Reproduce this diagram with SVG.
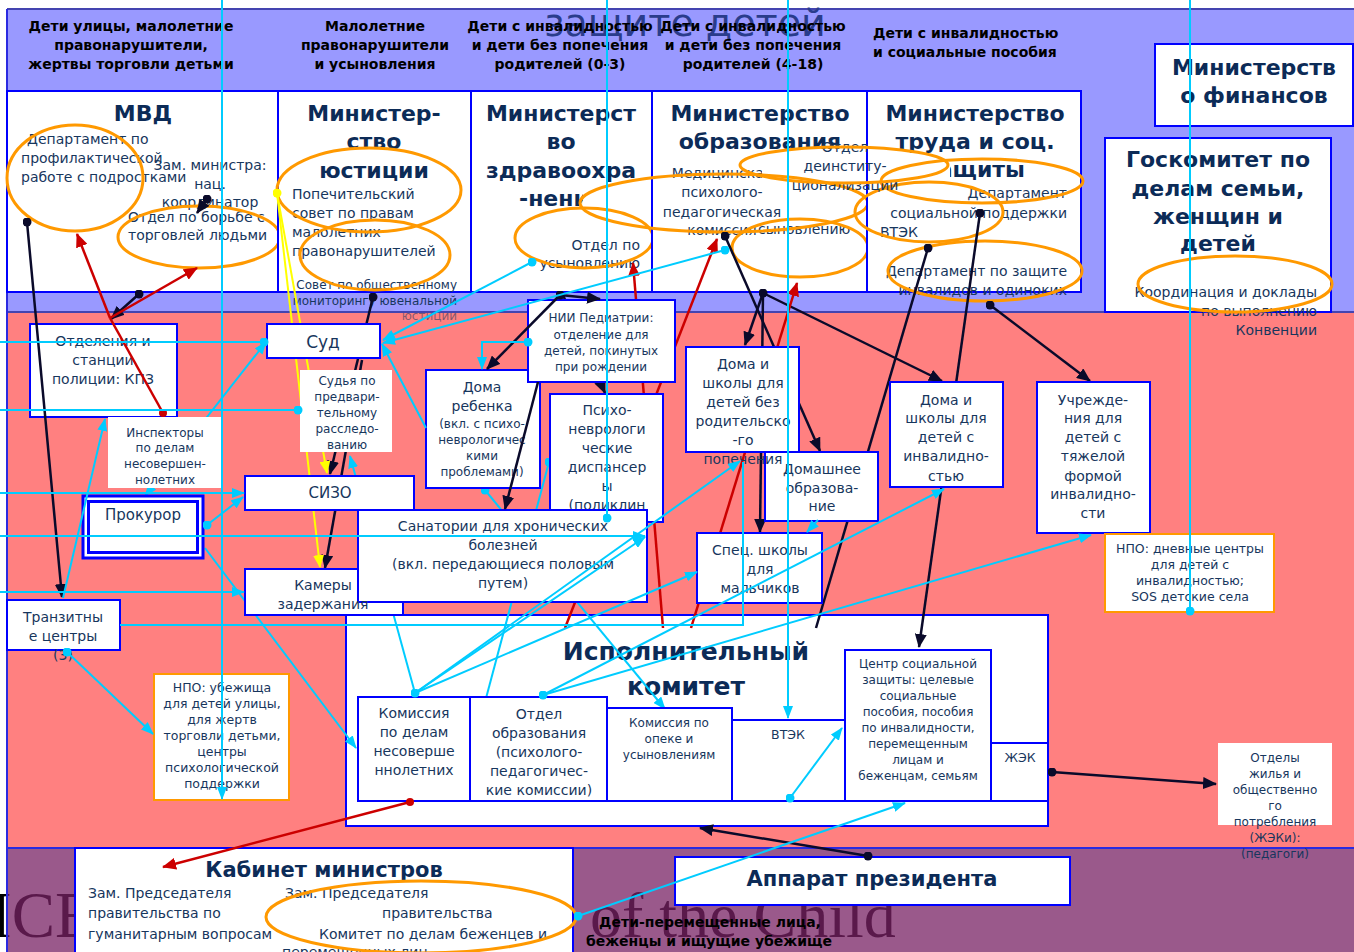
<svg xmlns="http://www.w3.org/2000/svg" width="1354" height="952" viewBox="0 0 1354 952">
<defs>
<style>
.t{font-family:"DejaVu Sans",Verdana,sans-serif;font-size:14px;fill:#17365d}
.c{text-anchor:middle}
.e{text-anchor:end}
.s12{font-size:12px}
.s13{font-size:12.5px}
.h{font-family:"DejaVu Sans",Verdana,sans-serif;font-size:14px;font-weight:bold;fill:#000;text-anchor:middle}
.ti{font-family:"DejaVu Sans",Verdana,sans-serif;font-size:22px;font-weight:bold;fill:#0c2b57;text-anchor:middle}
.bx{fill:#fff;stroke:#0000ff;stroke-width:2}
.nb{fill:#fff}
.ob{fill:#fff;stroke:#ff9900;stroke-width:2}
.el{fill:none;stroke:#ff9900;stroke-width:3}
.k{fill:none;stroke:#0a0a2a;stroke-width:2.5}
.cy{fill:none;stroke:#00ccff;stroke-width:2}
.r{fill:none;stroke:#cc0000;stroke-width:2.5}
.y{fill:none;stroke:#ffff00;stroke-width:2}
.bg{font-family:"Liberation Serif","Times New Roman",serif;font-size:65px;fill:#000}
</style>
<marker id="ak" viewBox="0 0 14 12" refX="13" refY="6" markerWidth="14" markerHeight="12" markerUnits="userSpaceOnUse" orient="auto"><path d="M0,0L14,6L0,12z" fill="#0a0a2a"/></marker>
<marker id="ar" viewBox="0 0 14 12" refX="13" refY="6" markerWidth="14" markerHeight="12" markerUnits="userSpaceOnUse" orient="auto"><path d="M0,0L14,6L0,12z" fill="#cc0000"/></marker>
<marker id="ac" viewBox="0 0 13 10" refX="12" refY="5" markerWidth="13" markerHeight="10" markerUnits="userSpaceOnUse" orient="auto"><path d="M0,0L13,5L0,10z" fill="#00ccff"/></marker>
<marker id="acs" viewBox="0 0 13 10" refX="12" refY="5" markerWidth="13" markerHeight="10" markerUnits="userSpaceOnUse" orient="auto-start-reverse"><path d="M0,0L13,5L0,10z" fill="#00ccff"/></marker>
<marker id="ay" viewBox="0 0 13 11" refX="12" refY="5.5" markerWidth="13" markerHeight="11" markerUnits="userSpaceOnUse" orient="auto"><path d="M0,0L13,5.5L0,11z" fill="#ffff00"/></marker>
<marker id="dk" viewBox="0 0 10 10" refX="5" refY="5" markerWidth="9" markerHeight="9" markerUnits="userSpaceOnUse"><circle cx="5" cy="5" r="5" fill="#0a0a2a"/></marker>
<marker id="dc" viewBox="0 0 10 10" refX="5" refY="5" markerWidth="9" markerHeight="9" markerUnits="userSpaceOnUse"><circle cx="5" cy="5" r="5" fill="#00ccff"/></marker>
<marker id="dr" viewBox="0 0 10 10" refX="5" refY="5" markerWidth="8" markerHeight="8" markerUnits="userSpaceOnUse"><circle cx="5" cy="5" r="5" fill="#cc0000"/></marker>
<marker id="dy" viewBox="0 0 10 10" refX="5" refY="5" markerWidth="9" markerHeight="9" markerUnits="userSpaceOnUse"><circle cx="5" cy="5" r="5" fill="#ffff00"/></marker>
<clipPath id="cpA"><rect x="0" y="0" width="583" height="952"/></clipPath>
<clipPath id="cpB"><rect x="0" y="0" width="762" height="952"/></clipPath>
<clipPath id="cpC"><rect x="950" y="0" width="404" height="952"/></clipPath>
</defs>

<g id="background">
<rect width="1354" height="952" fill="#fff"/>
<text class="bg" x="-10" y="937">ICE</text>
<text class="bg" x="590" y="937" style="font-size:64px">of the Child</text>
<rect x="7" y="9" width="1347" height="303" fill="#9999ff"/>
<rect x="7" y="312" width="1347" height="536" fill="#ff8080"/>
<rect x="7" y="848" width="1347" height="104" fill="#782164" fill-opacity="0.75"/>
<path d="M7,9H1354M7,312H1354" stroke="#4444b0" stroke-width="2"/>
<path d="M7,848H1354M7,9V952" stroke="#2a2ae0" stroke-width="2"/>
<text x="685" y="36" style="font-family:'DejaVu Sans',Verdana,sans-serif;font-size:38px;fill:#2a3c8c;text-anchor:middle">защите детей</text>
</g>

<g id="headers">
<text class="h" x="131" y="31">Дети улицы, малолетние</text>
<text class="h" x="131" y="50">правонарушители,</text>
<text class="h" x="131" y="69">жертвы торговли детьми</text>
<text class="h" x="375" y="31">Малолетние</text>
<text class="h" x="375" y="50">правонарушители</text>
<text class="h" x="375" y="69">и усыновления</text>
<text class="h" x="560" y="31">Дети с инвалидностью</text>
<text class="h" x="560" y="50">и дети без попечения</text>
<text class="h" x="560" y="69">родителей (0-3)</text>
<text class="h" x="753" y="31">Дети с инвалидностью</text>
<text class="h" x="753" y="50">и дети без попечения</text>
<text class="h" x="753" y="69">родителей (4-18)</text>
<text class="h" x="873" y="38" style="text-anchor:start">Дети с инвалидностью</text>
<text class="h" x="873" y="57" style="text-anchor:start">и социальные пособия</text>
</g>

<g id="mvd">
<rect class="bx" x="7" y="91" width="271" height="201"/>
<text class="ti" x="143" y="121">МВД</text>
<text class="t" x="27" y="144">Департамент по</text>
<text class="t" x="21" y="163">профилактической</text>
<text class="t" x="21" y="182">работе с подростками</text>
<text class="t c" x="210" y="170">Зам. министра:</text>
<text class="t c" x="210" y="189">нац.</text>
<text class="t c" x="210" y="207">координатор</text>
<text class="t" x="128" y="222">Отдел по борьбе с</text>
<text class="t" x="128" y="240">торговлей людьми</text>
<ellipse class="el" cx="75" cy="178" rx="68" ry="53"/>
<ellipse class="el" cx="199" cy="237" rx="81" ry="31"/>
</g>

<g id="min-justice">
<rect class="bx" x="278" y="91" width="193" height="201"/>
<text class="ti" x="374" y="121">Министер-</text>
<text class="ti" x="374" y="149">ство</text>
<text class="ti" x="374" y="178">юстиции</text>
<text class="t" x="292" y="199">Попечительский</text>
<text class="t" x="292" y="218">совет по правам</text>
<text class="t" x="292" y="237">малолетних</text>
<text class="t" x="292" y="256">правонарушителей</text>
<text class="t e s12" x="457" y="289">Совет по общественному</text>
<text class="t e s12" x="457" y="305">мониторингу ювенальной</text>
<text class="t e s12" x="457" y="320" fill-opacity="0.55">юстиции</text>
<ellipse class="el" cx="369" cy="190" rx="92" ry="42"/>
<ellipse class="el" cx="375" cy="255" rx="75" ry="35"/>
</g>

<g id="min-health">
<rect class="bx" x="471" y="91" width="181" height="201"/>
<text class="ti" x="561" y="121">Министерст</text>
<text class="ti" x="561" y="149">во</text>
<text class="ti" x="561" y="178">здравоохра</text>
<text class="ti" x="561" y="206" clip-path="url(#cpA)">-нения</text>
<text class="t e" x="640" y="250">Отдел по</text>
<text class="t e" x="640" y="268">усыновлению</text>
<ellipse class="el" cx="584" cy="238" rx="69" ry="30"/>
</g>

<g id="min-education">
<rect class="bx" x="652" y="91" width="215" height="201"/>
<text class="ti" x="760" y="121">Министерство</text>
<text class="ti" x="760" y="149">образования</text>
<text class="t c" x="722" y="178" clip-path="url(#cpB)">Медицинская</text>
<text class="t c" x="722" y="197">психолого-</text>
<text class="t c" x="722" y="217">педагогическая</text>
<text class="t c" x="722" y="235">комиссия</text>
<text class="t" x="758" y="234">сыновлению</text>
<ellipse class="el" cx="724" cy="203" rx="144" ry="29"/>
<ellipse class="el" cx="800" cy="248" rx="68" ry="29"/>
</g>

<g id="min-labour">
<rect class="bx" x="867" y="91" width="214" height="201"/>
<text class="ti" x="975" y="121">Министерство</text>
<text class="ti" x="975" y="149">труда и соц.</text>
<text class="ti" x="975" y="177" clip-path="url(#cpC)">защиты</text>
<text class="t e" x="1067" y="198">Департамент</text>
<text class="t e" x="1067" y="218">социальной поддержки</text>
<text class="t" x="880" y="237">ВТЭК</text>
<text class="t e" x="1067" y="276">Департамент по защите</text>
<text class="t e" x="1067" y="295">инвалидов и одиноких</text>
<ellipse class="el" cx="982" cy="181" rx="101" ry="22"/>
<ellipse class="el" cx="929" cy="212" rx="74" ry="30"/>
<ellipse class="el" cx="985" cy="271" rx="97" ry="30"/>
</g>

<g id="deinstitutionalization-dept">
<text class="t c" x="845" y="152">Отдел</text>
<text class="t c" x="845" y="171">деинститу-</text>
<text class="t c" x="845" y="190">ционализации</text>
<ellipse class="el" cx="844" cy="165" rx="104" ry="18"/>
</g>

<g id="min-finance">
<rect class="bx" x="1155" y="44" width="198" height="82"/>
<text class="ti" x="1254" y="75">Министерств</text>
<text class="ti" x="1254" y="103">о финансов</text>
</g>

<g id="goskomitet">
<rect class="bx" x="1105" y="138" width="226" height="174"/>
<text class="ti" x="1218" y="167">Госкомитет по</text>
<text class="ti" x="1218" y="196">делам семьи,</text>
<text class="ti" x="1218" y="224">женщин и</text>
<text class="ti" x="1218" y="251">детей</text>
<text class="t e" x="1317" y="297">Координация и доклады</text>
<text class="t e" x="1317" y="316">по выполнению</text>
<text class="t e" x="1317" y="335">Конвенции</text>
<ellipse class="el" cx="1235" cy="284" rx="97" ry="28"/>
</g>

<g id="ispolkom">
<rect class="bx" x="346" y="615" width="702" height="211"/>
<text class="ti" x="686" y="660" style="font-size:25px">Исполнительный</text>
<text class="ti" x="686" y="695" style="font-size:25px">комитет</text>
</g>

<g id="connectors-mid">
<path class="k" d="M563,295L605,393" marker-end="url(#ak)"/>
<path class="k" d="M725,236L820,451" marker-start="url(#dk)" marker-end="url(#ak)"/>
<path class="k" d="M763,293L745,345" marker-start="url(#dk)" marker-end="url(#ak)"/>
<path class="k" d="M763,293L760,532" marker-end="url(#ak)"/>
<path class="k" d="M763,293L942,381" marker-end="url(#ak)"/>
<path class="k" d="M928,248L816,628" marker-start="url(#dk)"/>
<path class="k" d="M980,213L919,647" marker-start="url(#dk)" marker-end="url(#ak)"/>
<path class="k" d="M990,305L1090,381" marker-start="url(#dk)" marker-end="url(#ak)"/>
<path class="k" d="M373,297L330,474" marker-start="url(#dk)" marker-end="url(#ak)"/>
<path class="k" d="M362,360L325,568" marker-end="url(#ak)"/>
<path class="r" d="M565,628L717,239" marker-end="url(#ar)"/>
<path class="r" d="M663,628L633,263" marker-end="url(#ar)"/>
<path class="r" d="M691,628L797,283" marker-end="url(#ar)"/>
<path class="y" d="M277,193L327,473" marker-start="url(#dy)" marker-end="url(#ay)"/>
<path class="y" d="M277,193L320,567" marker-end="url(#ay)"/>
<path class="cy" d="M145,496L266,342" marker-start="url(#acs)" marker-end="url(#ac)"/>
<path class="cy" d="M205,548L356,748" marker-end="url(#ac)"/>
<path class="cy" d="M549,462L473,747" marker-start="url(#dc)" marker-end="url(#ac)"/>
<path class="cy" d="M485,490L665,709" marker-start="url(#dc)" marker-end="url(#ac)"/>
<path class="cy" d="M415,693L350,456" marker-end="url(#ac)"/>
</g>

<g id="police-stations">
<rect class="bx" x="30" y="324" width="147" height="93"/>
<text class="t c" x="103" y="346">Отделения и</text>
<text class="t c" x="103" y="365">станции</text>
<text class="t c" x="103" y="384">полиции: КПЗ</text>
</g>
<g id="court">
<rect class="bx" x="267" y="324" width="113" height="34"/>
<text class="t c" x="323" y="348" style="font-size:17px">Суд</text>
</g>
<g id="judge">
<rect class="nb" x="300" y="370" width="92" height="82"/>
<text class="t c s12" x="347" y="385">Судья по</text>
<text class="t c s12" x="347" y="401">предвари-</text>
<text class="t c s12" x="347" y="417">тельному</text>
<text class="t c s12" x="347" y="433">расследо-</text>
<text class="t c s12" x="347" y="449">ванию</text>
</g>
<g id="inspectors">
<rect class="nb" x="108" y="417" width="114" height="71"/>
<text class="t c s12" x="165" y="437">Инспекторы</text>
<text class="t c s12" x="165" y="452">по делам</text>
<text class="t c s12" x="165" y="468">несовершен-</text>
<text class="t c s12" x="165" y="484">нолетних</text>
</g>
<g id="prosecutor">
<rect x="83" y="496" width="120" height="62" fill="#fff" stroke="#0000ff" stroke-width="3"/>
<rect x="88.5" y="501.5" width="109" height="51" fill="none" stroke="#0000ff" stroke-width="3"/>
<text class="t c" x="143" y="520" style="font-size:15px">Прокурор</text>
</g>
<g id="sizo">
<rect class="bx" x="245" y="476" width="169" height="34"/>
<text class="t c" x="330" y="498" style="font-size:15px">СИЗО</text>
</g>
<g id="cells">
<rect class="bx" x="245" y="569" width="158" height="46"/>
</g>
<g id="transit">
<rect class="bx" x="7" y="600" width="113" height="50"/>
<text class="t c" x="63" y="622">Транзитны</text>
<text class="t c" x="63" y="641">е центры</text>
<text class="t c" x="63" y="660">(3)</text>
</g>
<g id="baby-homes">
<rect class="bx" x="426" y="370" width="114" height="118"/>
<text class="t c" x="482" y="392">Дома</text>
<text class="t c" x="482" y="411">ребенка</text>
<text class="t c s12" x="482" y="428">(вкл. с психо-</text>
<text class="t c s12" x="482" y="444">неврологичес</text>
<text class="t c s12" x="482" y="460">кими</text>
<text class="t c s12" x="482" y="476">проблемами)</text>
</g>
<g id="nii">
<rect class="bx" x="528" y="300" width="147" height="82"/>
<text class="t c s12" x="601" y="322">НИИ Педиатрии:</text>
<text class="t c s12" x="601" y="339">отделение для</text>
<text class="t c s12" x="601" y="355">детей, покинутых</text>
<text class="t c s12" x="601" y="371">при рождении</text>
</g>
<g id="psycho">
<rect class="bx" x="550" y="394" width="113" height="128"/>
<text class="t c" x="607" y="415">Психо-</text>
<text class="t c" x="607" y="434">неврологи</text>
<text class="t c" x="607" y="453">ческие</text>
<text class="t c" x="607" y="472">диспансер</text>
<text class="t c" x="607" y="491">ы</text>
<text class="t c" x="607" y="510">(поликлин</text>
</g>
<g id="sanatoria">
<rect class="bx" x="358" y="510" width="289" height="92"/>
<text class="t c" x="503" y="531">Санатории для хронических</text>
<text class="t c" x="503" y="550">болезней</text>
<text class="t c" x="503" y="569">(вкл. передающиеся половым</text>
<text class="t c" x="503" y="588">путем)</text>
</g>
<g id="cells-text">
<text class="t c" x="323" y="590">Камеры</text>
<text class="t c" x="323" y="609">задержания</text>
</g>
<g id="home-education">
<rect class="bx" x="765" y="452" width="113" height="69"/>
<text class="t c" x="822" y="474">Домашнее</text>
<text class="t c" x="822" y="493">образова-</text>
<text class="t c" x="822" y="511">ние</text>
</g>
<g id="homes-no-parents">
<rect class="bx" x="686" y="347" width="113" height="105"/>
<text class="t c" x="743" y="369">Дома и</text>
<text class="t c" x="743" y="388">школы для</text>
<text class="t c" x="743" y="407">детей без</text>
<text class="t c" x="743" y="426">родительско</text>
<text class="t c" x="743" y="445">-го</text>
<text class="t c" x="743" y="464">попечения</text>
</g>
<g id="special-schools">
<rect class="bx" x="697" y="533" width="125" height="70"/>
<text class="t c" x="760" y="555">Спец. школы</text>
<text class="t c" x="760" y="574">для</text>
<text class="t c" x="760" y="593">мальчиков</text>
</g>
<g id="homes-disabled">
<rect class="bx" x="890" y="382" width="113" height="105"/>
<text class="t c" x="946" y="405">Дома и</text>
<text class="t c" x="946" y="423">школы для</text>
<text class="t c" x="946" y="442">детей с</text>
<text class="t c" x="946" y="461">инвалидно-</text>
<text class="t c" x="946" y="481">стью</text>
</g>
<g id="severe-disability">
<rect class="bx" x="1037" y="382" width="113" height="151"/>
<text class="t c" x="1093" y="405">Учрежде-</text>
<text class="t c" x="1093" y="423">ния для</text>
<text class="t c" x="1093" y="442">детей с</text>
<text class="t c" x="1093" y="461">тяжелой</text>
<text class="t c" x="1093" y="481">формой</text>
<text class="t c" x="1093" y="499">инвалидно-</text>
<text class="t c" x="1093" y="518">сти</text>
</g>
<g id="ngo-day-centres">
<rect class="ob" x="1105" y="534" width="169" height="78"/>
<text class="t c s13" x="1190" y="553">НПО: дневные центры</text>
<text class="t c s13" x="1190" y="569">для детей с</text>
<text class="t c s13" x="1190" y="585">инвалидностью;</text>
<text class="t c s13" x="1190" y="601">SOS детские села</text>
</g>
<g id="ngo-shelters">
<rect class="ob" x="154" y="674" width="135" height="126"/>
<text class="t c s13" x="222" y="692">НПО: убежища</text>
<text class="t c s13" x="222" y="708">для детей улицы,</text>
<text class="t c s13" x="222" y="724">для жертв</text>
<text class="t c s13" x="222" y="740">торговли детьми,</text>
<text class="t c s13" x="222" y="756">центры</text>
<text class="t c s13" x="222" y="772">психологической</text>
<text class="t c s13" x="222" y="788">поддержки</text>
</g>
<g id="juvenile-commission">
<rect class="bx" x="358" y="697" width="112" height="104"/>
<text class="t c" x="414" y="718">Комиссия</text>
<text class="t c" x="414" y="737">по делам</text>
<text class="t c" x="414" y="756">несоверше</text>
<text class="t c" x="414" y="775">ннолетних</text>
</g>
<g id="education-dept">
<rect class="bx" x="470" y="697" width="137" height="104"/>
<text class="t c" x="539" y="719">Отдел</text>
<text class="t c" x="539" y="738">образования</text>
<text class="t c" x="539" y="757">(психолого-</text>
<text class="t c" x="539" y="776">педагогичес-</text>
<text class="t c" x="539" y="795">кие комиссии)</text>
</g>
<g id="guardianship">
<rect class="bx" x="607" y="708" width="125" height="93"/>
<text class="t c s12" x="669" y="727">Комиссия по</text>
<text class="t c s12" x="669" y="743">опеке и</text>
<text class="t c s12" x="669" y="759">усыновлениям</text>
</g>
<g id="vtek">
<rect class="bx" x="732" y="720" width="113" height="81"/>
<text class="t c s13" x="788" y="739">ВТЭК</text>
</g>
<g id="social-centre">
<rect class="bx" x="845" y="650" width="146" height="151"/>
<text class="t c s12" x="918" y="668">Центр социальной</text>
<text class="t c s12" x="918" y="684">защиты: целевые</text>
<text class="t c s12" x="918" y="700">социальные</text>
<text class="t c s12" x="918" y="716">пособия, пособия</text>
<text class="t c s12" x="918" y="732">по инвалидности,</text>
<text class="t c s12" x="918" y="748">перемещенным</text>
<text class="t c s12" x="918" y="764">лицам и</text>
<text class="t c s12" x="918" y="780">беженцам, семьям</text>
</g>
<g id="zhek">
<rect class="bx" x="991" y="743" width="57" height="58"/>
<text class="t c s13" x="1020" y="762">ЖЭК</text>
</g>
<g id="housing-depts">
<rect class="nb" x="1218" y="743" width="114" height="82"/>
<text class="t c s12" x="1275" y="762">Отделы</text>
<text class="t c s12" x="1275" y="778">жилья и</text>
<text class="t c s12" x="1275" y="794">общественно</text>
<text class="t c s12" x="1275" y="810">го</text>
<text class="t c s12" x="1275" y="826">потребления</text>
<text class="t c s12" x="1275" y="842">(ЖЭКи):</text>
<text class="t c s12" x="1275" y="858">(педагоги)</text>
</g>
<g id="cabinet">
<rect class="bx" x="75" y="848" width="498" height="110"/>
<text class="ti" x="324" y="877" style="font-size:21px">Кабинет министров</text>
<text class="t" x="88" y="898">Зам. Председателя</text>
<text class="t" x="88" y="918">правительства по</text>
<text class="t" x="88" y="939">гуманитарным вопросам</text>
<text class="t" x="285" y="898">Зам. Председателя</text>
<text class="t" x="382" y="918">правительства</text>
<text class="t" x="319" y="939">Комитет по делам беженцев и</text>
<text class="t" x="282" y="957">перемещенных лиц</text>
<ellipse class="el" cx="421" cy="917" rx="155" ry="36"/>
</g>
<g id="president-office">
<rect class="bx" x="675" y="857" width="395" height="48"/>
<text class="ti" x="872" y="886" style="font-size:21px">Аппарат президента</text>
</g>
<g id="displaced-label">
<text class="h" x="710" y="927">Дети-перемещенные лица,</text>
<text class="h" x="709" y="946">беженцы и ищущие убежище</text>
</g>

<g id="connectors-top">
<path class="k" d="M27,222L62,597" marker-start="url(#dk)" marker-end="url(#ak)"/>
<path class="k" d="M207,199L197,213" marker-start="url(#dk)" marker-end="url(#ak)"/>
<path class="k" d="M139,294L111,319" marker-start="url(#dk)" marker-end="url(#ak)"/>
<path class="k" d="M560,295L487,369" marker-start="url(#dk)" marker-end="url(#ak)"/>
<path class="k" d="M560,295L600,299" marker-end="url(#ak)"/>
<path class="k" d="M538,382L505,509" marker-end="url(#ak)"/>
<path class="k" d="M1052,772L1216,784" marker-start="url(#dk)" marker-end="url(#ak)"/>
<path class="k" d="M868,856L700,828" marker-start="url(#dk)" marker-end="url(#ak)"/>
<path class="r" d="M163,413L110,318" marker-start="url(#dr)"/>
<path class="r" d="M110,318L77,234" marker-end="url(#ar)"/>
<path class="r" d="M110,318L197,268" marker-end="url(#ar)"/>
<path class="r" d="M410,802L163,867" marker-start="url(#dr)" marker-end="url(#ar)"/>
<path class="cy" d="M222,0V799" marker-end="url(#ac)"/>
<path class="cy" d="M607,0V518" marker-end="url(#dc)"/>
<path class="cy" d="M788,0V718" marker-end="url(#ac)"/>
<path class="cy" d="M1190,0V611" marker-end="url(#dc)"/>
<path class="cy" d="M0,342H264" marker-end="url(#dc)"/>
<path class="cy" d="M0,410H298" marker-end="url(#dc)"/>
<path class="cy" d="M0,493H244" marker-end="url(#ac)"/>
<path class="cy" d="M0,536H645" marker-end="url(#ac)"/>
<path class="cy" d="M0,592H244" marker-end="url(#ac)"/>
<path class="cy" d="M120,625H743V462"/>
<path class="cy" d="M63,598L105,419" marker-end="url(#ac)"/>
<path class="cy" d="M207,525L243,497" marker-start="url(#dc)" marker-end="url(#ac)"/>
<path class="cy" d="M67,652L153,734" marker-start="url(#dc)" marker-end="url(#ac)"/>
<path class="cy" d="M426,428L382,344" marker-end="url(#ac)"/>
<path class="cy" d="M532,262L383,340" marker-start="url(#dc)" marker-end="url(#ac)"/>
<path class="cy" d="M725,250L383,343" marker-start="url(#dc)" marker-end="url(#ac)"/>
<path class="cy" d="M528,342H482V369" marker-start="url(#dc)" marker-end="url(#ac)"/>
<path class="cy" d="M415,693L740,461" marker-start="url(#dc)" marker-end="url(#ac)"/>
<path class="cy" d="M415,693L697,572" marker-end="url(#ac)"/>
<path class="cy" d="M415,693L645,537" marker-end="url(#ac)"/>
<path class="cy" d="M543,695L1091,535" marker-start="url(#dc)" marker-end="url(#ac)"/>
<path class="cy" d="M543,695L944,489" marker-end="url(#ac)"/>
<path class="cy" d="M790,798L842,728" marker-start="url(#dc)" marker-end="url(#ac)"/>
<path class="cy" d="M578,916L905,803" marker-start="url(#dc)" marker-end="url(#ac)"/>
<path class="cy" d="M818,520L807,532" marker-end="url(#ac)"/>
</g>
</svg>
